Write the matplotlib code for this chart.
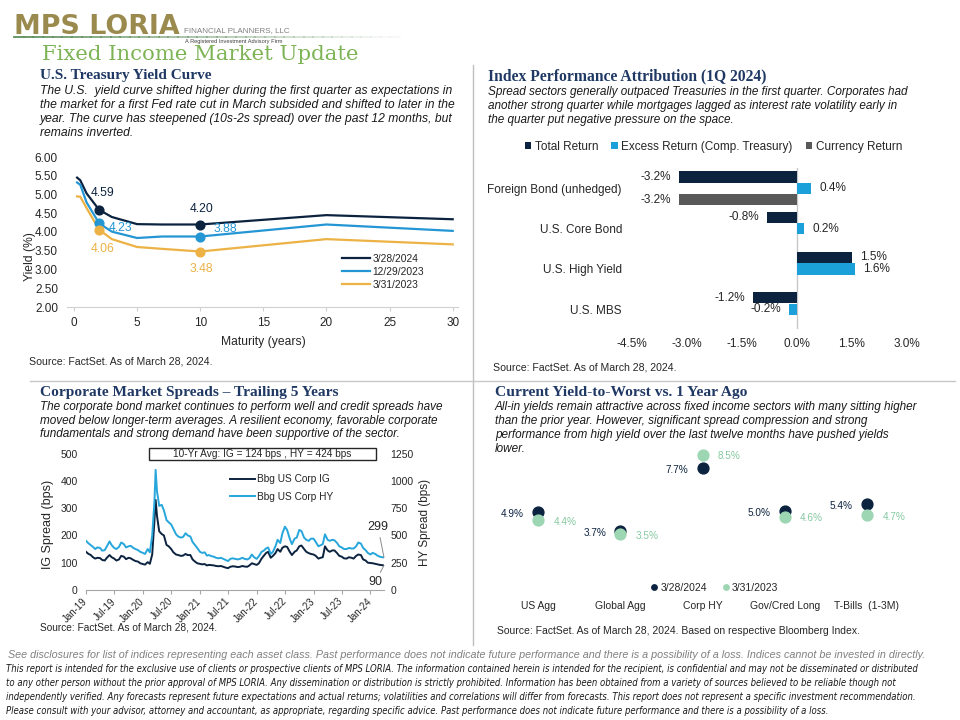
import matplotlib
matplotlib.use("Agg")
import matplotlib.pyplot as plt
import numpy as np
import pandas as pd
import matplotlib.dates as mdates
from matplotlib.lines import Line2D
from matplotlib.patches import Rectangle
from matplotlib.ticker import FuncFormatter
from matplotlib import font_manager as fm

# ---------------- data ----------------
# U.S. Treasury yield curve
maturity_years = [0.25, 0.5, 1, 2, 3, 5, 7, 10, 20, 30]
yield_2024_03_28 = [5.45, 5.38, 5.03, 4.59, 4.40, 4.21, 4.20, 4.20, 4.45, 4.34]
yield_2023_12_29 = [5.32, 5.26, 4.79, 4.23, 4.01, 3.84, 3.88, 3.88, 4.20, 4.03]
yield_2023_03_31 = [4.95, 4.94, 4.64, 4.06, 3.81, 3.60, 3.55, 3.48, 3.81, 3.67]
curve_labels = ["3/28/2024", "12/29/2023", "3/31/2023"]
highlight_maturities = [2, 10]

# Index performance attribution (1Q 2024), %
attr_categories = ["Foreign Bond (unhedged)", "U.S. Core Bond", "U.S. High Yield", "U.S. MBS"]
total_return = [-3.2, -0.8, 1.5, -1.2]
excess_return = [0.4, 0.2, 1.6, -0.2]
currency_return = [-3.2, np.nan, np.nan, np.nan]
attr_series = ["Total Return", "Excess Return (Comp. Treasury)", "Currency Return"]
attr_ticks = [-4.5, -3.0, -1.5, 0.0, 1.5, 3.0]

# Corporate spreads (semi-monthly, plus spike day and last day), bps
ig_2019 = [140, 133, 128, 120, 115, 118, 117, 110, 108, 118, 128, 120, 115, 108, 112, 125, 122, 113, 118, 116, 110, 106, 104, 98]
ig_2020 = [95, 93, 102, 96, 130, 250, 330, 270, 215, 205, 200, 165, 160, 150, 138, 130, 128, 125, 126, 132, 128, 128, 112, 104, 98]
ig_2021 = [96, 94, 95, 90, 92, 91, 90, 88, 87, 88, 85, 82, 80, 85, 87, 86, 84, 85, 88, 86, 85, 90, 98, 95]
ig_2022 = [92, 98, 115, 125, 135, 140, 118, 125, 135, 150, 140, 155, 160, 158, 140, 128, 140, 145, 160, 163, 150, 140, 135, 132]
ig_2023 = [130, 125, 115, 118, 120, 160, 145, 140, 145, 145, 135, 125, 122, 116, 115, 120, 118, 115, 125, 130, 128, 112, 108, 100]
ig_2024 = [99, 98, 96, 94, 92, 91, 90]
hy_2019 = [450, 430, 410, 395, 375, 390, 385, 360, 365, 400, 445, 410, 385, 375, 395, 435, 420, 390, 400, 405, 385, 375, 365, 350]
hy_2020 = [340, 330, 375, 345, 500, 800, 1100, 900, 770, 780, 730, 640, 620, 600, 560, 510, 490, 480, 485, 520, 500, 490, 440, 410, 385]
hy_2021 = [350, 340, 345, 315, 320, 310, 305, 295, 290, 295, 285, 275, 265, 285, 290, 285, 280, 285, 295, 285, 280, 290, 325, 300]
hy_2022 = [285, 310, 350, 360, 380, 390, 330, 350, 400, 460, 430, 520, 580, 550, 470, 420, 470, 480, 550, 540, 480, 460, 450, 470]
hy_2023 = [470, 440, 400, 410, 420, 510, 460, 450, 460, 455, 430, 400, 390, 375, 375, 385, 380, 380, 400, 435, 425, 385, 365, 340]
hy_2024 = [325, 340, 330, 315, 305, 300, 299]
spread_extra_dates = ["2020-03-23", "2024-03-28"]
spread_labels = ["Bbg US Corp IG", "Bbg US Corp HY"]
avg_note = "10-Yr Avg: IG = 124 bps , HY = 424 bps"

# Yield-to-worst
ytw_categories = ["US Agg", "Global Agg", "Corp HY", "Gov/Cred Long", "T-Bills  (1-3M)"]
ytw_2024 = [4.9, 3.7, 7.7, 5.0, 5.4]
ytw_2023 = [4.4, 3.5, 8.5, 4.6, 4.7]
ytw_labels = ["3/28/2024", "3/31/2023"]

# ---------------- style ----------------
W, H = 960, 720
fig = plt.figure(figsize=(9.6, 7.2), dpi=100)
fig.patch.set_facecolor("white")
renderer = fig.canvas.get_renderer()

SANS = "Liberation Sans"
SERIF = "Liberation Serif"
names = {f.name for f in fm.fontManager.ttflist}
if "Liberation Sans Narrow" in names:
    NARROW = dict(family="Liberation Sans Narrow")
else:
    NARROW = dict(family="DejaVu Sans", fontstretch="condensed")
plt.rcParams["font.family"] = [SANS, "DejaVu Sans"]

NAVY = "#0C2340"
BLUE = "#2396D3"
GOLD = "#EDB245"
CYAN = "#1BA0DA"
GREY = "#595959"
HYC = "#27A6DC"
GREEN = "#9DD6B3"
GREENT = "#86C9A0"
TXT = "#262626"


def fx(x):
    return x / W


def fy(y):
    return 1 - y / H


def add_ax(l, t, r, b):
    return fig.add_axes([l / W, 1 - b / H, (r - l) / W, (b - t) / H])


def fit(x, y, s, width, **kw):
    kw.setdefault("va", "center")
    kw.setdefault("ha", "left")
    t = fig.text(fx(x), fy(y), s, **kw)
    w = t.get_window_extent(renderer).width
    t.set_fontsize(t.get_fontsize() * width / w)
    return t


def para(x, ys, lines, width, **kw):
    t0 = fit(x, ys[0], lines[0], width, **kw)
    fs = t0.get_fontsize()
    for y, s in zip(ys[1:], lines[1:]):
        fig.text(fx(x), fy(y), s, fontsize=fs, va="center", ha="left", **kw)


# ---------------- header ----------------
fit(14, 27, "MPS LORIA", 166, family="DejaVu Sans", fontweight="heavy", color="#9B8A4E")
fit(184, 30.5, "FINANCIAL PLANNERS, LLC", 106, family=SANS, color="#808080")
fit(185, 41.5, "A Registered Investment Advisory Firm", 98, family=SANS, color="#404040")
nseg = 40
xs = np.linspace(14, 400, nseg + 1)
for i in range(nseg):
    a = 1 - i / nseg
    fig.add_artist(Line2D([fx(xs[i]), fx(xs[i + 1])], [fy(36.5), fy(36.5)],
                          color="#5E8F5E", alpha=max(a, 0.05), lw=1.3))
fit(42, 55, "Fixed Income Market Update", 318, family="DejaVu Serif", color="#7DB455")

# separators
fig.add_artist(Line2D([fx(473), fx(473)], [fy(65), fy(645)], color="#BFBFBF", lw=1))
fig.add_artist(Line2D([fx(30), fx(955)], [fy(381), fy(381)], color="#C8C8C8", lw=1))

# ---------------- section texts ----------------
title_kw = dict(family=SERIF, fontweight="bold", color="#1F3864")
desc_kw = dict(family=SANS, style="italic", color="#1A1A1A")
src_kw = dict(family=SANS, color=TXT)

fit(40, 76, "U.S. Treasury Yield Curve", 173, **title_kw)
para(40, [91, 105, 119, 133.5],
     ["The U.S.  yield curve shifted higher during the first quarter as expectations in",
      "the market for a first Fed rate cut in March subsided and shifted to later in the",
      "year. The curve has steepened (10s-2s spread) over the past 12 months, but",
      "remains inverted."], 412, **desc_kw)
fit(29, 361.5, "Source: FactSet. As of March 28, 2024.", 185, **src_kw)

fit(488, 76.5, "Index Performance Attribution (1Q 2024)", 279, **title_kw)
para(488, [91.7, 105.7, 120],
     ["Spread sectors generally outpaced Treasuries in the first quarter. Corporates had",
      "another strong quarter while mortgages lagged as interest rate volatility early in",
      "the quarter put negative pressure on the space."], 425, **desc_kw)
fit(493, 367, "Source: FactSet. As of March 28, 2024.", 184, **src_kw)

fit(40, 392.5, "Corporate Market Spreads \u2013 Trailing 5 Years", 300, **title_kw)
para(40, [406.7, 420.7, 434.5],
     ["The corporate bond market continues to perform well and credit spreads have",
      "moved below longer-term averages. A resilient economy, favorable corporate",
      "fundamentals and strong demand have been supportive of the sector."], 406, **desc_kw)
fit(40, 628, "Source: FactSet. As of March 28, 2024.", 177, **src_kw)

fit(495, 392.5, "Current Yield-to-Worst vs. 1 Year Ago", 253, **title_kw)
para(495, [406.7, 420.7, 435, 448.7],
     ["All-in yields remain attractive across fixed income sectors with many sitting higher",
      "than the prior year. However, significant spread compression and strong",
      "performance from high yield over the last twelve months have pushed yields",
      "lower."], 428, **desc_kw)
fit(497, 630.5, "Source: FactSet. As of March 28, 2024. Based on respective Bloomberg Index.", 364, **src_kw)

# disclaimers
fit(8, 655, "See disclosures for list of indices representing each asset class. Past performance does not "
            "indicate future performance and there is a possibility of a loss. Indices cannot be invested in directly.",
    917, family=SANS, style="italic", color="#808080")
disc = ["This report is intended for the exclusive use of clients or prospective clients of MPS LORIA. The information "
        "contained herein is intended for the recipient, is confidential and may not be disseminated or distributed",
        "to any other person without the prior approval of MPS LORIA. Any dissemination or distribution is strictly "
        "prohibited. Information has been obtained from a variety of sources believed to be reliable though not",
        "independently verified. Any forecasts represent future expectations and actual returns; volatilities and "
        "correlations will differ from forecasts. This report does not represent a specific investment recommendation.",
        "Please consult with your advisor, attorney and accountant, as appropriate, regarding specific advice. Past "
        "performance does not indicate future performance and there is a possibility of a loss."]
para(6, [669, 683, 697, 710.5], disc, 912, style="italic", color="#1A1A1A", **NARROW)

# ---------------- yield curve ----------------
axy = add_ax(67, 157, 458, 307)
mk_idx = [maturity_years.index(m) for m in highlight_maturities]
curves = [yield_2024_03_28, yield_2023_12_29, yield_2023_03_31]
ccols = [NAVY, BLUE, GOLD]
for vals, col, lab in zip(curves, ccols, curve_labels):
    axy.plot(maturity_years, vals, color=col, lw=1.6, label=lab, zorder=3)
    axy.plot([maturity_years[i] for i in mk_idx], [vals[i] for i in mk_idx], "o",
             color=col, markersize=6.3, zorder=4)
offsets = {0: [(3, 17), (1, 16)], 1: [(21, -5), (25, 8)], 2: [(3, -19), (1, -18)]}
for ci, (vals, col) in enumerate(zip(curves, ccols)):
    for k, idx in enumerate(mk_idx):
        axy.annotate(f"{vals[idx]:.2f}", xy=(maturity_years[idx], vals[idx]),
                     xytext=offsets[ci][k], textcoords="offset pixels",
                     ha="center", va="center", fontsize=8.7, color=col)
axy.set_xlim(-0.55, 30.42)
axy.set_ylim(2, 6)
axy.set_xticks([0, 5, 10, 15, 20, 25, 30])
axy.set_yticks(np.arange(2, 6.01, 0.5))
axy.yaxis.set_major_formatter(FuncFormatter(lambda v, p: f"{v:.2f}"))
for s in ["top", "right", "left"]:
    axy.spines[s].set_visible(False)
axy.spines["bottom"].set_color("#D0D0D0")
axy.tick_params(axis="y", length=0, pad=6.5, labelsize=8.5, labelcolor=TXT)
axy.tick_params(axis="x", length=3, color="#D0D0D0", pad=4.5, labelsize=8.5, labelcolor=TXT)
axy.legend(loc="center left", bbox_to_anchor=(fx(342), fy(272)), bbox_transform=fig.transFigure,
           frameon=False, fontsize=7.4, handlelength=2.7, handletextpad=0.25,
           labelspacing=0.3, borderpad=0, borderaxespad=0, labelcolor=TXT)
fig.text(fx(263), fy(341.7), "Maturity (years)", ha="center", va="center", fontsize=8.7, color=TXT)
fig.text(fx(30), fy(257), "Yield (%)", ha="center", va="center", rotation=90, fontsize=8.7, color=TXT)

# ---------------- attribution bars ----------------
axb = add_ax(631.7, 168.2, 906.7, 329.4)
yc = np.arange(len(attr_categories))
bh, off = 0.28, 0.285
bcols = [NAVY, CYAN, GREY]
for k, (vals, col, lab) in enumerate(zip([total_return, excess_return, currency_return], bcols, attr_series)):
    ypos = yc + (k - 1) * off
    axb.barh(ypos, vals, height=bh, color=col, label=lab, zorder=2)
    for yy, v in zip(ypos, vals):
        if np.isnan(v):
            continue
        axb.annotate(f"{v:.1f}%", xy=(v, yy), xytext=(8 if v > 0 else -8, 0),
                     textcoords="offset pixels", ha="left" if v > 0 else "right",
                     va="center", fontsize=8.5, color=TXT)
axb.axvline(0, color="#C8C8C8", lw=1, zorder=1)
axb.set_xlim(-4.5, 3.0)
axb.set_ylim(3.5, -0.5)
axb.set_xticks(attr_ticks)
axb.xaxis.set_major_formatter(FuncFormatter(lambda v, p: f"{v:.1f}%"))
axb.set_yticks(yc)
axb.set_yticklabels(attr_categories)
for s in axb.spines.values():
    s.set_visible(False)
axb.tick_params(axis="x", length=0, pad=6, labelsize=8.5, labelcolor=TXT)
axb.tick_params(axis="y", length=0, pad=7, labelsize=8.5, labelcolor=TXT)
axb.legend(loc="center", bbox_to_anchor=(fx(713.5), fy(146.7)), bbox_transform=fig.transFigure,
           ncol=3, frameon=False, fontsize=8.5, handlelength=0.55, handleheight=0.55,
           handletextpad=0.3, columnspacing=1.1, borderpad=0, labelcolor=TXT)

# ---------------- spreads ----------------
spread_dates = pd.date_range("2019-01-01", "2024-03-15", freq="SMS").union(pd.DatetimeIndex(spread_extra_dates))
ig = ig_2019 + ig_2020 + ig_2021 + ig_2022 + ig_2023 + ig_2024
hy = hy_2019 + hy_2020 + hy_2021 + hy_2022 + hy_2023 + hy_2024
axs = add_ax(86, 453.5, 384, 590)
axs.plot(spread_dates, ig, color=NAVY, lw=1.4, label=spread_labels[0])
axh = axs.twinx()
axh.plot(spread_dates, hy, color=HYC, lw=1.4, label=spread_labels[1])
axs.set_xlim(spread_dates[0], spread_dates[-1])
axs.set_ylim(0, 500)
axh.set_ylim(0, 1250)
axs.set_yticks(range(0, 501, 100))
axh.set_yticks(range(0, 1251, 250))
axs.xaxis.set_major_locator(mdates.MonthLocator(bymonth=[1, 7]))
axs.xaxis.set_major_formatter(mdates.DateFormatter("%b-%y"))
for s in ["top", "right", "left"]:
    axs.spines[s].set_visible(False)
for s in axh.spines.values():
    s.set_visible(False)
axs.spines["bottom"].set_color("#A6A6A6")
axs.tick_params(axis="x", length=3, color="#A6A6A6", pad=4, labelsize=7, labelcolor=TXT)
for lbl in axs.get_xticklabels():
    lbl.set_rotation(45)
    lbl.set_ha("right")
    lbl.set_va("center")
    lbl.set_rotation_mode("anchor")
axs.tick_params(axis="y", length=0, pad=6, labelsize=7.5, labelcolor=TXT)
axh.tick_params(axis="y", length=0, pad=4.5, labelsize=7.5, labelcolor=TXT)
h1, l1 = axs.get_legend_handles_labels()
h2, l2 = axh.get_legend_handles_labels()
axh.legend(h1 + h2, l1 + l2, loc="center left", bbox_to_anchor=(fx(230), fy(488)),
           bbox_transform=fig.transFigure, frameon=False, fontsize=7.3, handlelength=2.5,
           handletextpad=0.2, labelspacing=0.72, borderpad=0, borderaxespad=0, labelcolor=TXT)
axh.annotate(f"{hy[-1]:.0f}", xy=(spread_dates[-1], hy[-1]), xytext=(-6, 30), textcoords="offset pixels",
             ha="center", va="center", fontsize=9, color=TXT, annotation_clip=False,
             arrowprops=dict(arrowstyle="-", color="#8C8C8C", lw=0.7, shrinkA=1, shrinkB=0))
axs.annotate(f"{ig[-1]:.0f}", xy=(spread_dates[-1], ig[-1]), xytext=(-9, -17), textcoords="offset pixels",
             ha="center", va="center", fontsize=9, color=TXT, annotation_clip=False,
             arrowprops=dict(arrowstyle="-", color="#8C8C8C", lw=0.7, shrinkA=1, shrinkB=0))
fig.add_artist(Rectangle((fx(149), fy(460)), (376 - 149) / W, (460 - 447.7) / H,
                         transform=fig.transFigure, facecolor="white", edgecolor=TXT, lw=1))
fig.text(fx(262.5), fy(454), avg_note, ha="center", va="center", fontsize=7.3, color=TXT)
fig.text(fx(48), fy(524), "IG Spread (bps)", ha="center", va="center", rotation=90, fontsize=9, color=TXT)
fig.text(fx(425), fy(522), "HY Spread (bps)", ha="center", va="center", rotation=90, fontsize=8.5, color=TXT)

# ---------------- yield-to-worst ----------------
axw = add_ax(497, 431, 908, 597)
xc = np.arange(len(ytw_categories))
axw.plot(xc, ytw_2024, "o", color=NAVY, markersize=7.8, label=ytw_labels[0], zorder=2)
axw.plot(xc, ytw_2023, "o", color=GREEN, markersize=7.8, label=ytw_labels[1], zorder=3)
for x, v in zip(xc, ytw_2024):
    axw.annotate(f"{v:.1f}%", xy=(x, v), xytext=(-14, -2), textcoords="offset pixels",
                 ha="right", va="center", fontsize=7.2, color=NAVY)
for x, v in zip(xc, ytw_2023):
    axw.annotate(f"{v:.1f}%", xy=(x, v), xytext=(15.5, -1.5), textcoords="offset pixels",
                 ha="left", va="center", fontsize=7.2, color=GREENT)
axw.set_xlim(-0.5, 4.5)
axw.set_ylim(-0.44, 10.0)
axw.set_xticks(xc)
axw.set_xticklabels(ytw_categories)
axw.set_yticks([])
for s in axw.spines.values():
    s.set_visible(False)
axw.tick_params(axis="x", length=0, pad=3, labelsize=7.5, labelcolor=TXT)
axw.legend(loc="center", bbox_to_anchor=(fx(714.5), fy(587.7)), bbox_transform=fig.transFigure,
           ncol=2, frameon=False, fontsize=7.5, markerscale=0.5, handlelength=0.6,
           handletextpad=0.3, columnspacing=1.5, borderpad=0, labelcolor=TXT)

fig.savefig("out.png", dpi=100, facecolor="white")
